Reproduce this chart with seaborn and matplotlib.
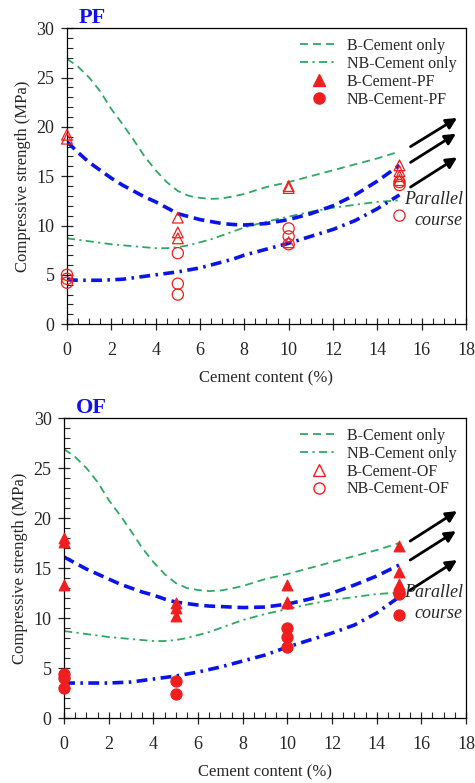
import numpy as np
import pandas as pd
import seaborn as sns
import matplotlib.pyplot as plt
from matplotlib.lines import Line2D
from matplotlib.ticker import MultipleLocator

# curve read-offs (x = cement content %)
curve_x = [0, 0.5, 1, 1.5, 2, 2.5, 3, 3.5, 4, 4.5, 5, 5.5, 6, 6.5, 7, 7.5, 8, 9, 10, 11, 12, 13, 14, 15]
b_cement_only = [26.9, 26.1, 25.0, 23.6, 21.8, 20.3, 18.7, 17.0, 15.6, 14.4, 13.5, 13.0, 12.8, 12.7,
                 12.75, 12.95, 13.2, 13.9, 14.4, 15.0, 15.6, 16.2, 16.8, 17.5]
nb_cement_only = [8.7, 8.55, 8.4, 8.25, 8.1, 8.0, 7.9, 7.8, 7.7, 7.7, 7.8, 8.0, 8.3, 8.6,
                  9.0, 9.4, 9.8, 10.4, 10.9, 11.4, 11.8, 12.1, 12.4, 12.55]

pf_b_fit = [18.5, 17.4, 16.4, 15.6, 14.8, 14.1, 13.5, 12.9, 12.4, 11.8, 11.2, 10.9, 10.6, 10.4,
            10.2, 10.1, 10.05, 10.2, 10.6, 11.2, 12.0, 13.1, 14.5, 16.1]
pf_nb_fit = [4.5, 4.45, 4.45, 4.45, 4.5, 4.55, 4.7, 4.85, 5.0, 5.15, 5.3, 5.5, 5.7, 6.0,
             6.3, 6.6, 7.0, 7.6, 8.2, 8.9, 9.6, 10.5, 11.7, 13.1]
of_b_fit = [16.1, 15.5, 14.9, 14.4, 13.9, 13.4, 13.0, 12.6, 12.3, 11.9, 11.6, 11.45, 11.3, 11.2,
            11.15, 11.1, 11.05, 11.1, 11.4, 11.9, 12.5, 13.3, 14.2, 15.3]
of_nb_fit = [3.5, 3.5, 3.5, 3.5, 3.5, 3.55, 3.6, 3.75, 3.9, 4.05, 4.2, 4.4, 4.6, 4.85,
             5.1, 5.4, 5.7, 6.3, 7.1, 7.8, 8.5, 9.3, 10.5, 12.1]

# measured points
pf_b_x = [0, 0, 5, 5, 5, 10, 10, 10, 15, 15, 15, 15]
pf_b_y = [19.2, 18.8, 10.8, 9.3, 8.7, 14.0, 13.8, 8.3, 16.1, 15.5, 15.0, 14.6]
pf_nb_x = [0, 0, 0, 5, 5, 5, 10, 10, 10, 15, 15, 15]
pf_nb_y = [5.0, 4.6, 4.2, 7.2, 4.1, 3.0, 9.7, 8.9, 8.1, 14.4, 14.1, 11.0]

of_b_x = [0, 0, 0, 5, 5, 5, 10, 10, 10, 15, 15, 15, 15]
of_b_y = [18.0, 17.6, 13.3, 11.5, 11.0, 10.2, 13.3, 11.6, 11.5, 17.2, 14.6, 13.4, 12.9]
of_nb_x = [0, 0, 0, 5, 5, 10, 10, 10, 15, 15, 15]
of_nb_y = [4.4, 4.0, 3.0, 3.7, 2.4, 9.0, 8.1, 7.1, 12.6, 12.4, 10.3]

# arrows (start, end) in data units
pf_arrows = [((15.5, 18.0), (17.6, 20.9)), ((15.5, 16.4), (17.55, 19.3)), ((15.5, 13.9), (17.6, 16.9))]
of_arrows = [((15.5, 17.7), (17.6, 20.7)), ((15.5, 15.8), (17.55, 18.7)), ((15.5, 12.8), (17.6, 15.8))]

GREEN = "#2ea862"
BLUE = "#0a14e6"
RED = "#f01e1e"

sns.set_style("ticks")
plt.rcParams["font.family"] = ["Liberation Serif", "DejaVu Serif"]

fig = plt.figure(figsize=(4.75, 7.83), dpi=100)
ax1 = fig.add_axes([0.141, 0.586, 0.840, 0.378])
ax2 = fig.add_axes([0.135, 0.083, 0.846, 0.383])


def draw(ax, name, b_fit, nb_fit, bx, by, nbx, nby, arrows, filled_pts):
    cur = pd.DataFrame({"x": curve_x, "b": b_cement_only, "nb": nb_cement_only,
                        "bf": b_fit, "nbf": nb_fit})
    sns.lineplot(data=cur, x="x", y="b", ax=ax, color=GREEN, lw=1.3,
                 linestyle=(0, (4.4, 2.8)), sort=False)
    sns.lineplot(data=cur, x="x", y="nb", ax=ax, color=GREEN, lw=1.3,
                 linestyle=(0, (4.5, 2.4, 1.2, 2.4)), sort=False)
    sns.lineplot(data=cur, x="x", y="bf", ax=ax, color=BLUE, lw=2.6,
                 linestyle=(0, (3.0, 1.6)), sort=False)
    sns.lineplot(data=cur, x="x", y="nbf", ax=ax, color=BLUE, lw=2.6,
                 linestyle=(0, (3.0, 1.5, 0.7, 1.5)), sort=False)

    pts_b = pd.DataFrame({"x": bx, "y": by})
    pts_nb = pd.DataFrame({"x": nbx, "y": nby})
    if filled_pts:
        sns.scatterplot(data=pts_b, x="x", y="y", ax=ax, marker="^", s=60,
                        color=RED, edgecolor=RED, linewidth=0.8, zorder=5, clip_on=False)
        sns.scatterplot(data=pts_nb, x="x", y="y", ax=ax, marker="o", s=65,
                        color=RED, edgecolor=RED, linewidth=0.8, zorder=5, clip_on=False)
    else:
        sns.scatterplot(data=pts_b, x="x", y="y", ax=ax, marker="^", s=60,
                        facecolor="none", edgecolor=RED, linewidth=0.9, zorder=5, clip_on=False)
        sns.scatterplot(data=pts_nb, x="x", y="y", ax=ax, marker="o", s=65,
                        facecolor="none", edgecolor=RED, linewidth=0.9, zorder=5, clip_on=False)

    for (x0, y0), (x1, y1) in arrows:
        ax.annotate("", xy=(x1, y1), xytext=(x0, y0),
                    arrowprops=dict(arrowstyle="-|>", color="black", lw=2.0,
                                    mutation_scale=16, shrinkA=0, shrinkB=0))
    ax.text(17.85, 12.6, "Parallel", style="italic", fontsize=13, ha="right", va="center")
    ax.text(17.85, 10.5, "course", style="italic", fontsize=13, ha="right", va="center")

    # legend: filled symbols in one panel, hollow in the other (as in the source)
    mfc = "none" if filled_pts else RED
    handles = [
        Line2D([], [], color=GREEN, lw=1.3, linestyle=(0, (4.4, 2.8))),
        Line2D([], [], color=GREEN, lw=1.3, linestyle=(0, (4.5, 2.4, 1.2, 2.4))),
        Line2D([], [], color=RED, marker="^", ls="none", ms=8, mfc=mfc, mec=RED),
        Line2D([], [], color=RED, marker="o", ls="none", ms=8, mfc=mfc, mec=RED),
    ]
    labels = ["B-Cement only", "NB-Cement only", f"B-Cement-{name}", f"NB-Cement-{name}"]
    ax.legend(handles, labels, loc="upper right", bbox_to_anchor=(1.0, 1.0),
              frameon=False, fontsize=11.5, handlelength=2.3, labelspacing=0.12,
              handletextpad=0.6, borderaxespad=0.2)

    ax.set_xlim(0, 18)
    ax.set_ylim(0, 30)
    ax.xaxis.set_major_locator(MultipleLocator(2))
    ax.xaxis.set_minor_locator(MultipleLocator(0.5))
    ax.yaxis.set_major_locator(MultipleLocator(5))
    ax.yaxis.set_minor_locator(MultipleLocator(1))
    ax.tick_params(axis="x", which="major", direction="inout", length=8, width=0.9,
                   labelsize=13, pad=9)
    ax.tick_params(axis="y", which="major", direction="inout", length=8, width=0.9,
                   labelsize=13, pad=5)
    ax.tick_params(which="minor", direction="in", length=4, width=0.8)
    for sp in ax.spines.values():
        sp.set_linewidth(0.9)
        sp.set_color("black")
    ax.set_xlabel("Cement content (%)", fontsize=12, labelpad=8)
    ax.set_ylabel("Compressive strength (MPa)", fontsize=12, labelpad=4)
    ax.text(0.03, 1.0, name, transform=ax.transAxes, color="#1010ee",
            fontsize=16, fontweight="bold", ha="left", va="bottom")


draw(ax1, "PF", pf_b_fit, pf_nb_fit, pf_b_x, pf_b_y, pf_nb_x, pf_nb_y, pf_arrows, False)
draw(ax2, "OF", of_b_fit, of_nb_fit, of_b_x, of_b_y, of_nb_x, of_nb_y, of_arrows, True)

fig.savefig("out.png", dpi=100)
